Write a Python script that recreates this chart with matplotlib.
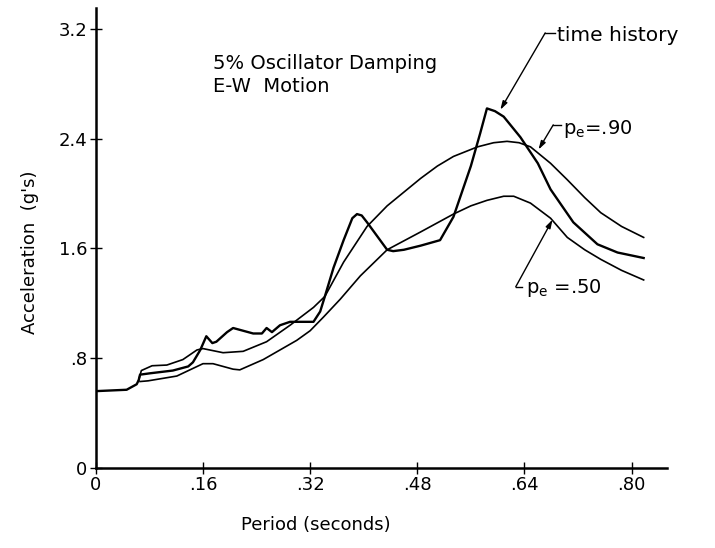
import matplotlib
matplotlib.use('Agg')
import matplotlib.pyplot as plt

plt.rcParams['font.family'] = ['DejaVu Sans']
plt.rcParams['mathtext.default'] = 'regular'

# period (s) / acceleration (g's)
th_period = [0, 0.046, 0.061, 0.064, 0.066, 0.081, 0.115, 0.138, 0.145, 0.156, 0.165, 0.174,
             0.18, 0.196, 0.205, 0.22, 0.235, 0.248, 0.255, 0.263, 0.275, 0.29, 0.325, 0.335,
             0.342, 0.355, 0.37, 0.383, 0.39, 0.397, 0.405, 0.42, 0.435, 0.444, 0.46, 0.485,
             0.514, 0.534, 0.56, 0.574, 0.584, 0.596, 0.609, 0.634, 0.66, 0.679, 0.713, 0.749,
             0.779, 0.818]
th_acc = [0.56, 0.57, 0.61, 0.64, 0.68, 0.69, 0.71, 0.74, 0.77, 0.86, 0.96, 0.91,
          0.92, 0.99, 1.02, 1.0, 0.98, 0.98, 1.02, 0.99, 1.04, 1.065, 1.065, 1.14,
          1.25, 1.46, 1.66, 1.82, 1.85, 1.84, 1.79, 1.69, 1.59, 1.58, 1.59, 1.62,
          1.66, 1.83, 2.2, 2.44, 2.62, 2.60, 2.56, 2.41, 2.22, 2.03, 1.79, 1.63,
          1.57, 1.53]

p90_period = [0.064, 0.068, 0.084, 0.106, 0.13, 0.151, 0.16, 0.19, 0.22, 0.255, 0.29, 0.325,
              0.342, 0.37, 0.405, 0.435, 0.465, 0.485, 0.51, 0.534, 0.57, 0.594, 0.614, 0.632,
              0.649, 0.679, 0.704, 0.73, 0.754, 0.785, 0.818]
p90_acc = [0.64, 0.71, 0.745, 0.75, 0.79, 0.86, 0.87, 0.84, 0.85, 0.92, 1.04, 1.17,
           1.25, 1.50, 1.76, 1.91, 2.03, 2.11, 2.20, 2.27, 2.34, 2.37, 2.38, 2.37,
           2.34, 2.22, 2.10, 1.97, 1.86, 1.76, 1.68]

p50_period = [0.066, 0.078, 0.121, 0.16, 0.175, 0.205, 0.215, 0.25, 0.30, 0.32, 0.34, 0.365,
              0.395, 0.435, 0.485, 0.534, 0.56, 0.584, 0.609, 0.624, 0.649, 0.679, 0.704,
              0.73, 0.754, 0.785, 0.818]
p50_acc = [0.63, 0.635, 0.67, 0.76, 0.76, 0.72, 0.715, 0.79, 0.93, 1.0, 1.10, 1.23,
           1.40, 1.59, 1.72, 1.85, 1.91, 1.95, 1.98, 1.98, 1.93, 1.82, 1.68,
           1.59, 1.52, 1.44, 1.37]

xticks = [0, 0.16, 0.32, 0.48, 0.64, 0.80]
xlabels = ['0', '.16', '.32', '.48', '.64', '.80']
yticks = [0, 0.8, 1.6, 2.4, 3.2]
ylabels = ['0', '.8', '1.6', '2.4', '3.2']

fig = plt.figure(figsize=(7.15, 5.48), dpi=100)
ax = fig.add_axes([0.134, 0.146, 0.799, 0.839])

ax.plot(th_period, th_acc, color='black', lw=1.7, solid_joinstyle='round')
ax.plot(p90_period, p90_acc, color='black', lw=1.2, solid_joinstyle='round')
ax.plot(p50_period, p50_acc, color='black', lw=1.2, solid_joinstyle='round')

ax.set_xlim(0, 0.853)
ax.set_ylim(0, 3.35)
ax.set_xticks(xticks)
ax.set_xticklabels(xlabels)
ax.set_yticks(yticks)
ax.set_yticklabels(ylabels)
for s in ['top', 'right']:
    ax.spines[s].set_visible(False)
for s in ['left', 'bottom']:
    ax.spines[s].set_linewidth(1.8)
ax.tick_params(direction='inout', length=8, width=1, labelsize=13, pad=2)
ax.set_xlabel('Period (seconds)', fontsize=13)
ax.xaxis.set_label_coords(0.385, -0.105)
ax.set_ylabel("Acceleration  (g's)", fontsize=13)
ax.yaxis.set_label_coords(-0.1, 0.47)

ax.text(0.175, 2.95, '5% Oscillator Damping', fontsize=14, va='center')
ax.text(0.175, 2.78, 'E-W  Motion', fontsize=14, va='center')

arrow = dict(arrowstyle='-|>,head_length=0.5,head_width=0.15', color='black', lw=1, shrinkA=0, shrinkB=0)

# time history label
ax.plot([0.671, 0.686], [3.17, 3.17], color='black', lw=1)
ax.annotate('', xy=(0.604, 2.61), xytext=(0.671, 3.17), arrowprops=arrow)
ax.text(0.689, 3.15, 'time history', fontsize=14.5, va='center')

# pe = .90 label
ax.plot([0.683, 0.695], [2.50, 2.50], color='black', lw=1)
ax.annotate('', xy=(0.661, 2.32), xytext=(0.683, 2.50), arrowprops=arrow)
ax.text(0.698, 2.47, 'p$_e$=.90', fontsize=14, va='center')

# pe = .50 label
ax.plot([0.627, 0.636], [1.32, 1.32], color='black', lw=1)
ax.annotate('', xy=(0.682, 1.81), xytext=(0.627, 1.32), arrowprops=arrow)
ax.text(0.642, 1.31, 'p$_e$ =.50', fontsize=14, va='center')

fig.savefig('out.png', dpi=100)
